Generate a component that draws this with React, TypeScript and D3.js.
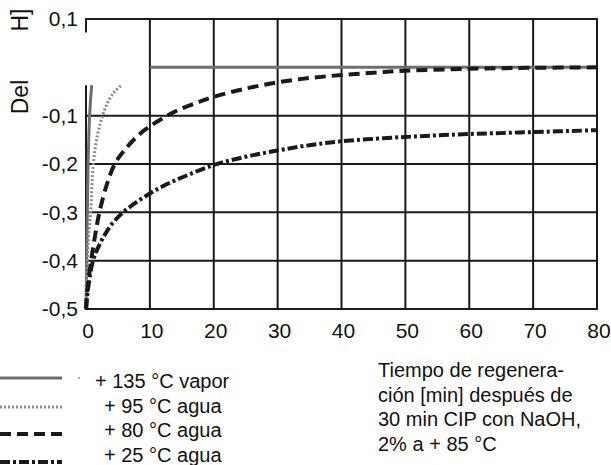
import React, { useEffect, useRef } from "react";
import * as d3 from "d3";

// regeneration time [min]
const vaporTime = [0, 0.15, 0.3, 0.5, 0.7, 0.9, 5, 10, 20, 30, 40, 50, 60, 70, 80];
const vaporDelta = [-0.5, -0.35, -0.22, -0.12, -0.07, -0.037, null, 0, 0, 0, 0, 0, 0, 0, 0];

const water95Time = [0, 0.1, 0.2, 0.4, 0.73, 1.15, 1.8, 2.6, 3.5, 4.5, 5.6];
const water95Delta = [-0.5, -0.45, -0.4, -0.35, -0.3, -0.2, -0.14, -0.1, -0.07, -0.05, -0.037];

const water80Time = [0, 0.3, 0.8, 1.4, 2.1, 3.2, 4.5, 6, 8, 10, 12.7, 15, 17.8, 20, 25, 30, 35, 40, 45, 50, 60, 70, 80];
const water80Delta = [-0.5, -0.45, -0.4, -0.35, -0.3, -0.245, -0.2, -0.172, -0.143, -0.122, -0.1, -0.085, -0.071, -0.061, -0.044, -0.031, -0.022, -0.016, -0.011, -0.007, -0.003, -0.001, 0];

const water25Time = [0, 0.3, 1.1, 2, 3, 4, 5.8, 8, 10, 12, 15, 20, 25, 30, 35, 40, 50, 60, 70, 80];
const water25Delta = [-0.5, -0.46, -0.4, -0.37, -0.345, -0.325, -0.3, -0.278, -0.261, -0.246, -0.228, -0.202, -0.185, -0.172, -0.161, -0.153, -0.144, -0.138, -0.134, -0.13];

const xTicks = [0, 10, 20, 30, 40, 50, 60, 70, 80];
const yTicks = [0.1, -0.1, -0.2, -0.3, -0.4, -0.5];
const yGrid = [-0.1, -0.2, -0.3, -0.4];

const legendLabels = ["+ 135 °C vapor", "+ 95 °C agua", "+ 80 °C agua", "+ 25 °C agua"];
const noteLines = ["Tiempo de regenera-", "ción [min] después de", "30 min CIP con NaOH,", "2% a + 85 °C"];

const App = () => {
  const svgRef = useRef<SVGSVGElement>(null);
  const width = 611;
  const height = 465;

  useEffect(() => {
    const svg = d3.select(svgRef.current);
    svg.selectAll("*").remove();

    const x = d3.scaleLinear().domain([0, 80]).range([86, 597]);
    const y = d3.scaleLinear().domain([0.1, -0.5]).range([19, 309]);
    const font = "'Liberation Sans', Arial, sans-serif";

    // grid
    const grid = svg.append("g").attr("stroke", "#1a1a1a").attr("stroke-width", 2);
    xTicks.slice(1).forEach((t) => {
      grid.append("line").attr("x1", x(t)).attr("x2", x(t)).attr("y1", y(0.1)).attr("y2", y(-0.5));
    });
    yGrid.forEach((t) => {
      grid.append("line").attr("x1", x(0)).attr("x2", x(80)).attr("y1", y(t)).attr("y2", y(t));
    });
    // frame (left edge is broken near the top)
    grid.append("line").attr("x1", x(0) - 1).attr("x2", x(80) + 1).attr("y1", y(0.1)).attr("y2", y(0.1));
    grid.append("line").attr("x1", x(0) - 1).attr("x2", x(80) + 1).attr("y1", y(-0.5)).attr("y2", y(-0.5));
    grid.append("line").attr("x1", x(0)).attr("x2", x(0)).attr("y1", y(0.1)).attr("y2", y(0.072));
    grid.append("line").attr("x1", x(0)).attr("x2", x(0)).attr("y1", y(-0.037)).attr("y2", y(-0.5));

    const line = d3
      .line<[number, number | null]>()
      .defined((d) => d[1] != null)
      .x((d) => x(d[0]))
      .y((d) => y(d[1] as number))
      .curve(d3.curveCatmullRom.alpha(0.5));

    const series = [
      { t: vaporTime, v: vaporDelta, stroke: "#6e6e6e", w: 3, dash: null },
      { t: water95Time, v: water95Delta, stroke: "#8a8a8a", w: 3, dash: "2,2" },
      { t: water80Time, v: water80Delta, stroke: "#1a1a1a", w: 4, dash: "11,6" },
      { t: water25Time, v: water25Delta, stroke: "#1a1a1a", w: 4, dash: "10,3,3,3" },
    ];

    series.forEach((s) => {
      const pts = s.t.map((t, i) => [t, s.v[i]] as [number, number | null]);
      svg
        .append("path")
        .attr("d", line(pts))
        .attr("fill", "none")
        .attr("stroke", s.stroke)
        .attr("stroke-width", s.w)
        .attr("stroke-dasharray", s.dash);
    });

    // tick labels
    svg
      .append("g")
      .selectAll("text")
      .data(xTicks)
      .enter()
      .append("text")
      .attr("x", (d) => x(d) + 2)
      .attr("y", 338)
      .attr("text-anchor", "middle")
      .style("font-family", font)
      .style("font-size", "21px")
      .attr("fill", "#111")
      .text((d) => d);

    svg
      .append("g")
      .selectAll("text")
      .data(yTicks)
      .enter()
      .append("text")
      .attr("x", 78)
      .attr("y", (d) => y(d))
      .attr("dy", "0.35em")
      .attr("text-anchor", "end")
      .style("font-family", font)
      .style("font-size", "21px")
      .attr("fill", "#111")
      .text((d) => d.toFixed(1).replace(".", ","));

    // axis title fragments
    [["H]", 20], ["Del", 97]].forEach(([txt, cy]) => {
      svg
        .append("text")
        .attr("transform", `translate(28,${cy}) rotate(-90)`)
        .attr("text-anchor", "middle")
        .style("font-family", font)
        .style("font-size", "23px")
        .attr("fill", "#111")
        .text(txt as string);
    });

    // legend
    const legend = svg.append("g");
    const sampleY = [378, 407, 434, 462];
    series.forEach((s, i) => {
      legend
        .append("line")
        .attr("x1", 0)
        .attr("x2", 62)
        .attr("y1", sampleY[i])
        .attr("y2", sampleY[i])
        .attr("stroke", s.stroke)
        .attr("stroke-width", s.w)
        .attr("stroke-dasharray", s.dash);
      legend
        .append("text")
        .attr("x", i === 0 ? 95 : 104)
        .attr("y", 381 + i * 24.7)
        .attr("dy", "0.35em")
        .style("font-family", font)
        .style("font-size", "20px")
        .attr("fill", "#111")
        .text(legendLabels[i]);
    });
    legend.append("circle").attr("cx", 79).attr("cy", 378).attr("r", 1).attr("fill", "#999");

    const note = svg.append("g");
    noteLines.forEach((txt, i) => {
      note
        .append("text")
        .attr("x", 378)
        .attr("y", 370 + i * 24.7)
        .attr("dy", "0.35em")
        .style("font-family", font)
        .style("font-size", "20px")
        .attr("fill", "#111")
        .text(txt);
    });
  }, []);

  return (
    <svg
      ref={svgRef}
      width={width}
      height={height}
      style={{ position: "absolute", left: 0, top: 0, background: "#fff" }}
    />
  );
};

export default App;
